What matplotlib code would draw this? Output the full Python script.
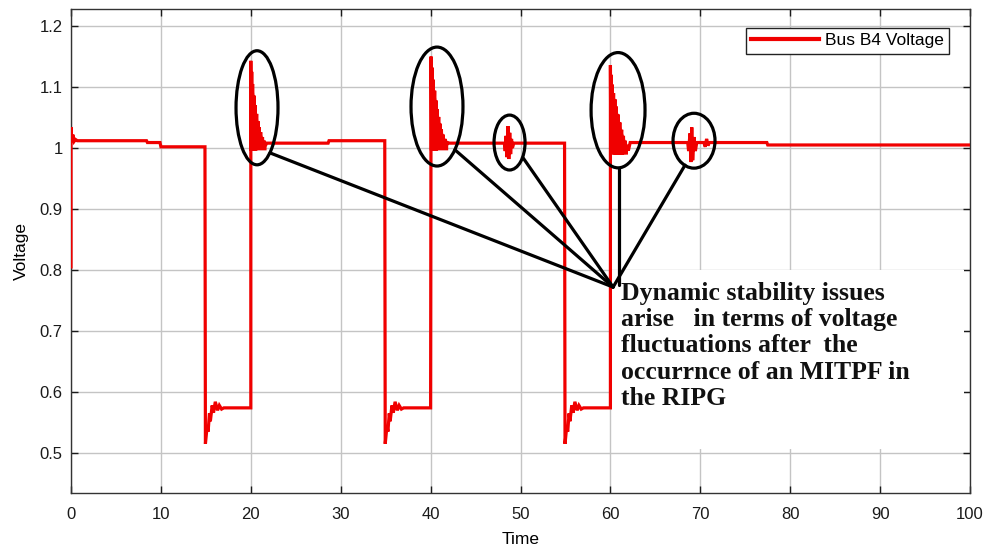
import matplotlib
matplotlib.use("Agg")
import matplotlib.pyplot as plt
from matplotlib.patches import Ellipse, Rectangle

plt.rcParams["font.family"] = ["Liberation Sans", "DejaVu Sans"]

# Bus B4 voltage trace (time in s, voltage in pu)
# pre-fault settling
t_pre = [0.0, 0.0, 0.1, 0.2, 0.35, 0.5, 0.7, 8.4, 8.5, 9.9, 10.0, 14.9]
v_pre = [0.805, 1.034, 1.010, 1.022, 1.011, 1.014, 1.012, 1.012, 1.009, 1.009, 1.002, 1.002]

# fault 1 sag (15-20 s) and recovery spike at 20 s
t_f1 = [14.95, 15.15, 15.25, 15.4, 15.5, 15.7, 15.85, 16.05, 16.3, 16.5, 16.75, 17.0, 20.0]
v_f1 = [0.515, 0.545, 0.535, 0.565, 0.552, 0.578, 0.566, 0.584, 0.570, 0.578, 0.572, 0.574, 0.574]
t_r1 = [20.0, 20.05, 20.1, 20.15, 20.2, 20.25, 20.35, 20.4, 20.5, 20.55, 20.65, 20.7,
        20.8, 20.85, 20.95, 21.0, 21.1, 21.15, 21.3, 21.35, 21.5, 21.6, 21.8, 28.6, 28.7, 34.9]
v_r1 = [1.143, 0.996, 1.125, 0.996, 1.105, 0.996, 1.086, 0.996, 1.070, 0.996, 1.056, 0.997,
        1.044, 0.997, 1.034, 0.998, 1.026, 0.998, 1.018, 1.000, 1.012, 1.004, 1.008, 1.008, 1.012, 1.012]

# fault 2 sag (35-40 s), recovery spike at 40 s, disturbance near 48.6 s
t_f2 = [34.95, 35.15, 35.25, 35.4, 35.5, 35.7, 35.85, 36.05, 36.3, 36.5, 36.75, 37.0, 40.0]
v_f2 = [0.515, 0.545, 0.535, 0.565, 0.552, 0.578, 0.566, 0.584, 0.570, 0.578, 0.572, 0.574, 0.574]
t_r2 = [40.05, 40.1, 40.15, 40.2, 40.3, 40.35, 40.45, 40.5, 40.6, 40.65, 40.75, 40.8,
        40.9, 40.95, 41.05, 41.1, 41.2, 41.25, 41.4, 41.45, 41.6, 41.7, 41.9, 42.1,
        48.2, 48.3, 48.4, 48.5, 48.6, 48.7, 48.8, 48.9, 49.0, 49.1, 49.25, 54.9]
v_r2 = [1.150, 0.996, 1.132, 0.996, 1.112, 0.996, 1.094, 0.996, 1.078, 0.996, 1.064, 0.997,
        1.051, 0.997, 1.040, 0.998, 1.031, 0.998, 1.022, 0.999, 1.015, 1.002, 1.009, 1.008,
        1.008, 0.995, 1.020, 0.985, 1.036, 0.982, 1.025, 0.990, 1.015, 1.000, 1.008, 1.008]

# fault 3 sag (55-60 s), recovery spike at 60 s, disturbance near 69 s
t_f3 = [54.95, 55.15, 55.25, 55.4, 55.5, 55.7, 55.85, 56.05, 56.3, 56.5, 56.75, 57.0, 60.0]
v_f3 = [0.515, 0.545, 0.535, 0.565, 0.552, 0.578, 0.566, 0.584, 0.570, 0.578, 0.572, 0.574, 0.574]
t_r3 = [60.0, 60.05, 60.1, 60.15, 60.2, 60.25, 60.35, 60.4, 60.5, 60.55, 60.65, 60.7,
        60.85, 60.9, 61.05, 61.1, 61.25, 61.3, 61.45, 61.5, 61.65, 61.75, 61.9, 62.0, 62.2,
        68.6, 68.7, 68.85, 68.95, 69.05, 69.15, 69.3, 69.45, 69.6, 70.4, 70.55, 70.7, 70.85, 71.0,
        77.4, 77.5, 100.0]
v_r3 = [1.136, 0.992, 1.120, 0.992, 1.104, 0.990, 1.090, 0.990, 1.080, 0.989, 1.068, 0.989,
        1.055, 0.989, 1.042, 0.989, 1.030, 0.989, 1.020, 0.990, 1.012, 0.992, 1.005, 0.996, 1.009,
        1.009, 0.995, 1.024, 0.977, 1.034, 0.980, 1.018, 0.995, 1.009, 1.009, 1.002, 1.015, 1.004, 1.009,
        1.009, 1.005, 1.005]

# upper envelopes of the fast oscillation after each recovery
env1_t = [20.0, 20.1, 20.2, 20.35, 20.5, 20.65, 20.8, 20.95, 21.1, 21.3, 21.5, 21.7]
env1_v = [1.143, 1.125, 1.105, 1.086, 1.070, 1.056, 1.044, 1.034, 1.026, 1.018, 1.012, 1.006]
env2_t = [40.05, 40.15, 40.3, 40.45, 40.6, 40.75, 40.9, 41.05, 41.2, 41.4, 41.6, 41.9]
env2_v = [1.150, 1.132, 1.112, 1.094, 1.078, 1.064, 1.051, 1.040, 1.031, 1.022, 1.015, 1.008]
env3_t = [60.0, 60.1, 60.2, 60.35, 60.5, 60.65, 60.85, 61.05, 61.25, 61.45, 61.65, 61.9]
env3_v = [1.136, 1.120, 1.104, 1.090, 1.080, 1.068, 1.055, 1.042, 1.030, 1.020, 1.012, 1.005]
env_floor = [0.997, 0.997, 0.990]

time = t_pre + t_f1 + t_r1 + t_f2 + t_r2 + t_f3 + t_r3
voltage = v_pre + v_f1 + v_r1 + v_f2 + v_r2 + v_f3 + v_r3

x_ticks = [0, 10, 20, 30, 40, 50, 60, 70, 80, 90, 100]
y_ticks = [0.5, 0.6, 0.7, 0.8, 0.9, 1.0, 1.1, 1.2]
y_tick_labels = ["0.5", "0.6", "0.7", "0.8", "0.9", "1", "1.1", "1.2"]

# highlighted oscillations: centre (t, v), width (s), height (pu)
ring_centres = [(20.69, 1.066), (40.71, 1.068), (48.78, 1.009), (60.85, 1.062), (69.3, 1.012)]
ring_widths = [4.67, 5.78, 3.45, 6.0, 4.67]
ring_heights = [0.187, 0.195, 0.090, 0.189, 0.090]
# pointer lines run from each ring to the note
pointer_starts = [(22.14, 0.992), (42.71, 0.997), (50.28, 0.984), (60.95, 0.967), (68.3, 0.972)]
pointer_ends = [(60.3, 0.772), (60.3, 0.772), (60.3, 0.772), (60.95, 0.775), (60.3, 0.772)]

note = ("Dynamic stability issues\n"
        "arise   in terms of voltage\n"
        "fluctuations after  the\n"
        "occurrnce of an MITPF in\n"
        "the RIPG")

fig = plt.figure(figsize=(9.89, 5.5), dpi=100)
ax = fig.add_axes([0.0718, 0.1036, 0.909, 0.88])
ax.set_axisbelow(True)

red = "#f00000"
ax.plot(time, voltage, color=red, linewidth=2.3, label="Bus B4 Voltage",
        solid_joinstyle="miter", zorder=3)
for et, ev, floor in zip([env1_t, env2_t, env3_t], [env1_v, env2_v, env3_v], env_floor):
    ax.fill_between(et, floor, ev, color=red, linewidth=0, zorder=3)

for (cx, cy), w, h in zip(ring_centres, ring_widths, ring_heights):
    ax.add_patch(Ellipse((cx, cy), w, h, fill=False, edgecolor="black",
                         linewidth=2.3, zorder=5))
for (x0, y0), (x1, y1) in zip(pointer_starts, pointer_ends):
    ax.plot([x0, x1], [y0, y1], color="black", linewidth=2.3,
            solid_capstyle="round", zorder=5)

# white panel behind the note
ax.add_patch(Rectangle((60.18, 0.5066), 39.15, 0.2934, facecolor="white",
                       edgecolor="none", zorder=1))
ax.text(61.18, 0.7805, note, family=["Liberation Serif", "DejaVu Serif"],
        fontweight="bold", fontsize=18.5, va="top", ha="left",
        linespacing=1.18, color="#111111", zorder=6)

ax.set_xlim(0, 100)
ax.set_ylim(0.4344, 1.2279)
ax.set_xticks(x_ticks)
ax.set_yticks(y_ticks)
ax.set_yticklabels(y_tick_labels)
ax.grid(True, color="#c4c4c4", linewidth=1.0)
ax.tick_params(direction="in", length=5, width=1, top=True, right=True,
               labelsize=12, colors="#1a1a1a", pad=6)
ax.tick_params(axis="x", pad=10)
for spine in ax.spines.values():
    spine.set_color("#333333")
    spine.set_linewidth(1.0)

ax.set_xlabel("Time", fontsize=12.5, labelpad=7)
ax.set_ylabel("Voltage", fontsize=12.5, labelpad=8)

leg = ax.legend(loc="upper right", bbox_to_anchor=(0.9766, 0.9607),
                borderaxespad=0, fontsize=12.5, handlelength=3.9,
                handletextpad=0.35, borderpad=0.3, fancybox=False,
                framealpha=1, edgecolor="#222222")
leg.get_frame().set_linewidth(1.0)
for line in leg.get_lines():
    line.set_linewidth(3)

fig.savefig("out.png", dpi=100)
